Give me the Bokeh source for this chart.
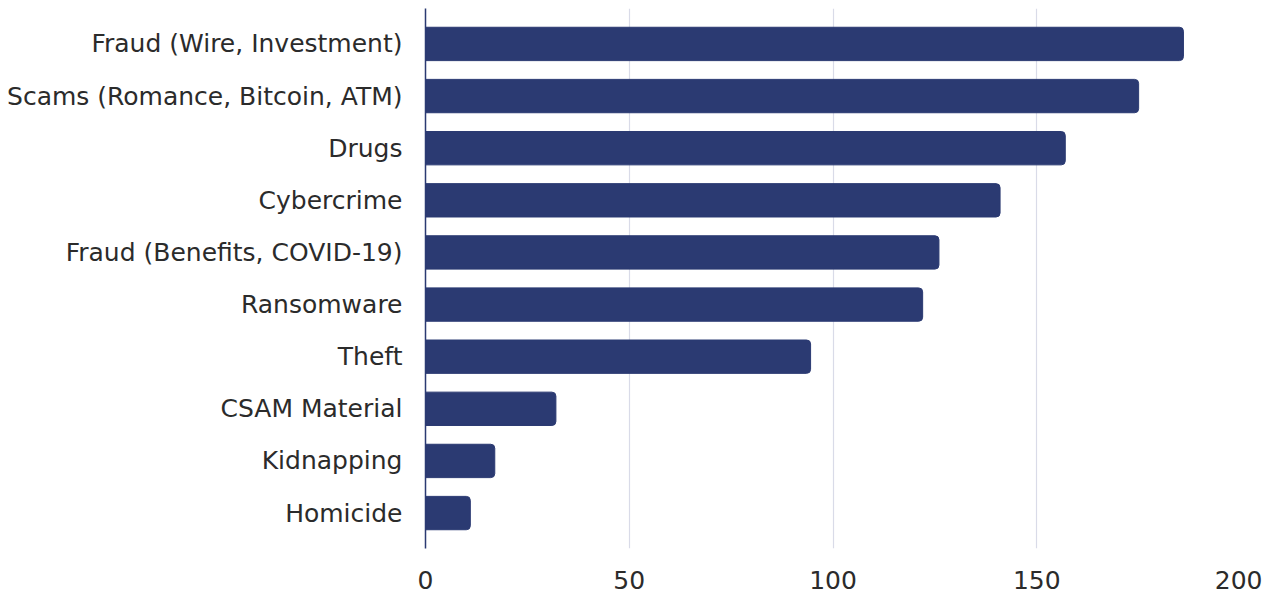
from bokeh.plotting import figure
from bokeh.models import FactorRange, Range1d, ColumnDataSource, FixedTicker
from bokeh.embed import file_html
from bokeh.resources import INLINE

categories = ["Fraud (Wire, Investment)", "Scams (Romance, Bitcoin, ATM)", "Drugs",
              "Cybercrime", "Fraud (Benefits, COVID-19)", "Ransomware", "Theft",
              "CSAM Material", "Kidnapping", "Homicide"]
values = [186, 175, 157, 141, 126, 122, 94.5, 32, 17, 11]
x_ticks = [0, 50, 100, 150, 200]

BAR = "#2b3a72"
FONT = "DejaVu Sans"
TXT = "#2b2b2b"

src = ColumnDataSource(dict(cat=categories, val=values))

p = figure(width=1262, height=596, output_backend="svg", toolbar_location=None,
           y_range=FactorRange(factors=categories[::-1], range_padding=0.036),
           x_range=Range1d(0, 200),
           min_border_left=425, min_border_right=22, min_border_top=8, min_border_bottom=48)

p.hbar(y="cat", right="val", left=0, height=0.64, source=src, color=BAR,
       border_radius=(0, 4, 4, 0))

p.outline_line_color = None
p.background_fill_color = "white"
p.border_fill_color = "white"

p.xgrid.ticker = FixedTicker(ticks=x_ticks)
p.xgrid.grid_line_color = "#d9dbe8"
p.xgrid.grid_line_width = 1.2
p.ygrid.grid_line_color = None

p.xaxis.ticker = FixedTicker(ticks=x_ticks)
p.xaxis.axis_line_color = None
p.xaxis.major_tick_line_color = None
p.xaxis.minor_tick_line_color = None
p.xaxis.major_label_standoff = 16
p.xaxis.major_label_text_font = FONT
p.xaxis.major_label_text_font_size = "25px"
p.xaxis.major_label_text_color = TXT

p.yaxis.axis_line_color = BAR
p.yaxis.axis_line_width = 1.5
p.yaxis.major_tick_line_color = None
p.yaxis.minor_tick_line_color = None
p.yaxis.major_label_standoff = 17
p.yaxis.major_label_text_font = FONT
p.yaxis.major_label_text_font_size = "25px"
p.yaxis.major_label_text_color = TXT

open("out.html", "w").write(file_html(p, INLINE))
